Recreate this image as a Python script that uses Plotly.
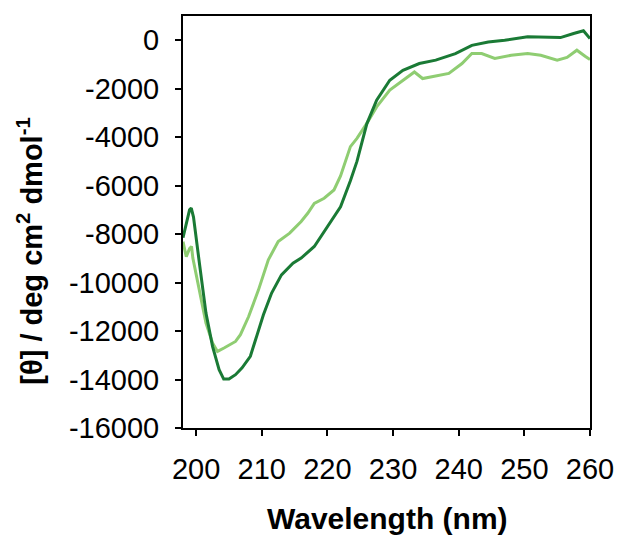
import plotly.graph_objects as go

# Dark green series
wl_dark = [198.0, 198.5, 199.0, 199.26, 199.6, 200.5, 201.5, 202.5, 203.5, 204.2, 205.0, 206.0, 207.0,
           208.26, 209.25, 210.25, 211.5, 213.0, 214.75, 216.0, 218.0, 220.0, 222.0, 223.5, 224.5,
           226.0, 227.5, 229.5, 231.5, 234.0, 236.5, 239.5, 242.0, 244.5, 247.0, 250.5, 253.5,
           255.5, 257.5, 259.0, 260.0]
cd_dark = [-8150, -7600, -7000, -6930, -7300, -9200, -11260, -12630, -13590, -13980, -13980, -13800, -13520,
           -13040, -12220, -11330, -10430, -9680, -9200, -8990, -8510, -7690, -6870, -5800, -5000,
           -3450, -2470, -1650, -1240, -960, -820, -550, -210, -70, 0, 140, 140,
           110, 280, 390, 70]

# Light green series
wl_light = [198.0, 198.5, 199.0, 199.3, 199.5, 200.5, 201.5, 202.5, 203.25, 204.25, 206.0, 206.75, 208.0,
            209.5, 211.0, 212.5, 214.25, 216.0, 217.0, 218.0, 219.5, 221.0, 222.0, 223.5, 224.5,
            226.0, 227.5, 229.5, 231.5, 233.25, 234.5, 237.0, 238.5, 240.5, 242.0, 243.5, 245.5,
            248.0, 250.5, 252.5, 255.0, 256.5, 258.0, 259.25, 260.0]
cd_light = [-8310, -8930, -8600, -8510, -8990, -10300, -11670, -12490, -12840, -12700, -12430, -12150, -11400,
            -10300, -9060, -8310, -7960, -7480, -7140, -6730, -6520, -6180, -5600, -4390, -4050,
            -3430, -2750, -2060, -1650, -1310, -1580, -1440, -1370, -960, -550, -550, -750,
            -620, -550, -620, -820, -710, -410, -660, -800]

x_ticks = [200, 210, 220, 230, 240, 250, 260]
y_ticks = [0, -2000, -4000, -6000, -8000, -10000, -12000, -14000, -16000]

x_title = "<b>Wavelength (nm)</b>"
y_title = "<b>[θ] / deg cm<sup>2</sup> dmol<sup>-1</sup></b>"

fig = go.Figure()
fig.add_trace(go.Scatter(x=wl_light, y=cd_light, mode="lines",
                         line=dict(color="#8fcd72", width=3), showlegend=False))
fig.add_trace(go.Scatter(x=wl_dark, y=cd_dark, mode="lines",
                         line=dict(color="#1a7a35", width=3), showlegend=False))

font_family = "Liberation Sans, Arial, sans-serif"
fig.update_layout(
    width=626, height=540,
    margin=dict(l=183, r=29, t=16, b=112),
    paper_bgcolor="white", plot_bgcolor="white",
    font=dict(family=font_family, color="black"),
    xaxis=dict(
        range=[198, 260], tickvals=x_ticks, ticktext=[str(v) for v in x_ticks],
        ticks="outside", ticklen=6, tickwidth=2, tickcolor="black",
        showline=True, linecolor="black", linewidth=2, mirror=True,
        showgrid=False, zeroline=False, ticklabelstandoff=8,
        tickfont=dict(size=29, family=font_family, color="black"),
    ),
    yaxis=dict(
        range=[-16000, 1000], tickvals=y_ticks, ticktext=[str(v) for v in y_ticks],
        ticks="outside", ticklen=6, tickwidth=2, tickcolor="black",
        showline=True, linecolor="black", linewidth=2, mirror=True,
        showgrid=False, zeroline=False, ticklabelstandoff=10,
        tickfont=dict(size=29, family=font_family, color="black"),
    ),
    annotations=[
        dict(text=x_title, xref="paper", yref="paper", x=0.502, y=-0.219,
             xanchor="center", yanchor="middle", showarrow=False,
             font=dict(size=30, family=font_family, color="black")),
        dict(text=y_title, xref="paper", yref="paper", x=-0.3768, y=0.4296,
             xanchor="center", yanchor="middle", showarrow=False, textangle=-90,
             font=dict(size=29, family=font_family, color="black")),
    ],
)

fig.write_html("out.html")
